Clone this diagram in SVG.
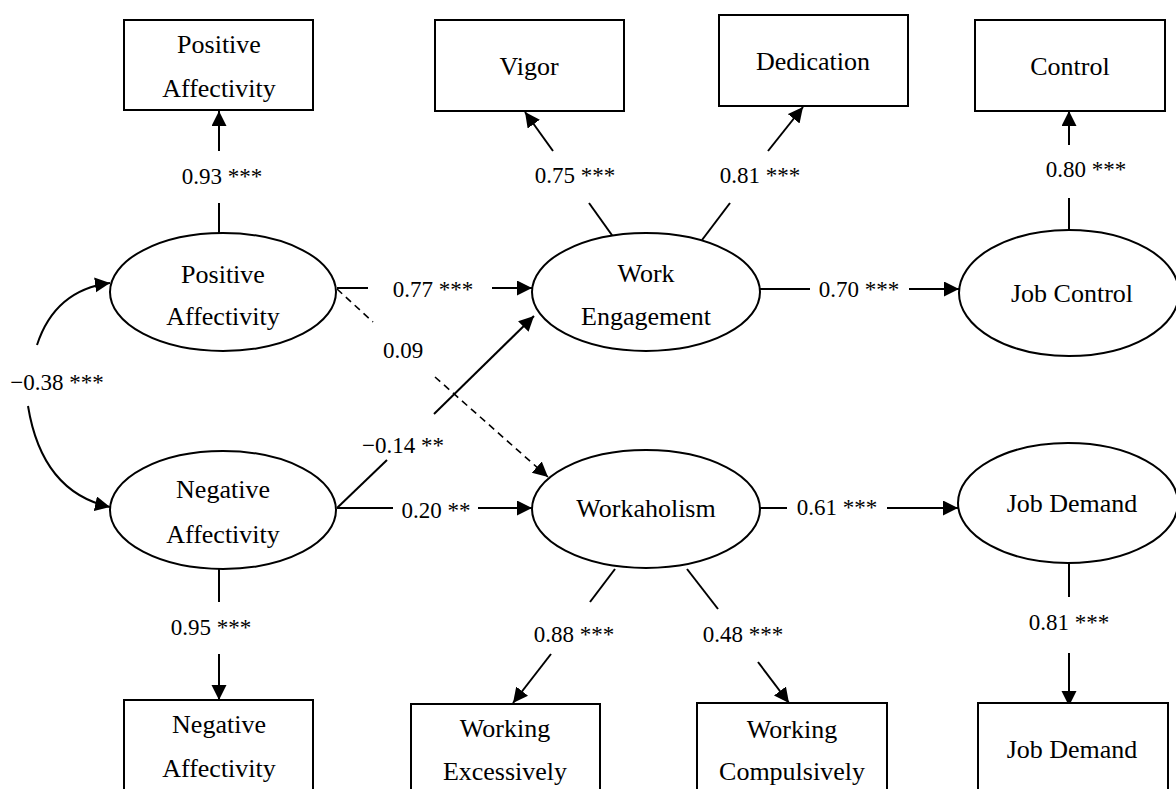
<svg xmlns="http://www.w3.org/2000/svg" width="1176" height="789" viewBox="0 0 1176 789">
<defs>
<style>
.box{fill:#fff;stroke:#000;stroke-width:2}
.ell{fill:#fff;stroke:#000;stroke-width:2}
.nt{font-family:"Liberation Serif",serif;font-size:26px;fill:#000;text-anchor:middle}
.lb{font-family:"Liberation Serif",serif;font-size:23px;fill:#000;text-anchor:middle}
.ln{fill:none;stroke:#000;stroke-width:2}
.ds{fill:none;stroke:#000;stroke-width:1.6;stroke-dasharray:7 5}
</style>
<marker id="ah" markerUnits="userSpaceOnUse" markerWidth="16" markerHeight="16" refX="15" refY="7.5" orient="auto" viewBox="0 0 16 16">
<path d="M0,0 L15,7.5 L0,15 z" fill="#000"/>
</marker>
</defs>
<rect width="1176" height="789" fill="#fff"/>

<g id="connectors">
<!-- PA latent to PA indicator -->
<line class="ln" x1="219" y1="151" x2="219" y2="111" marker-end="url(#ah)"/>
<line class="ln" x1="219" y1="203" x2="219" y2="233"/>
<!-- WE to Vigor -->
<line class="ln" x1="553" y1="151" x2="525" y2="112" marker-end="url(#ah)"/>
<line class="ln" x1="589" y1="203" x2="614" y2="238"/>
<!-- WE to Dedication -->
<line class="ln" x1="768" y1="151" x2="803" y2="107" marker-end="url(#ah)"/>
<line class="ln" x1="730" y1="203" x2="702" y2="240"/>
<!-- JC to Control -->
<line class="ln" x1="1069" y1="145" x2="1069" y2="111" marker-end="url(#ah)"/>
<line class="ln" x1="1069" y1="198" x2="1069" y2="230"/>
<!-- PA -> WE -->
<line class="ln" x1="337" y1="288" x2="368" y2="288"/>
<line class="ln" x1="492" y1="288" x2="532" y2="288" marker-end="url(#ah)"/>
<!-- NA -> W -->
<line class="ln" x1="337" y1="508" x2="393" y2="508"/>
<line class="ln" x1="478" y1="508" x2="532" y2="508" marker-end="url(#ah)"/>
<!-- WE -> JC -->
<line class="ln" x1="759" y1="289" x2="810" y2="289"/>
<line class="ln" x1="909" y1="289" x2="959" y2="289" marker-end="url(#ah)"/>
<!-- W -> JD -->
<line class="ln" x1="759" y1="508" x2="787" y2="508"/>
<line class="ln" x1="887" y1="508" x2="958" y2="508" marker-end="url(#ah)"/>
<!-- NA -> WE diagonal -->
<line class="ln" x1="337" y1="508" x2="387" y2="460"/>
<line class="ln" x1="434" y1="414" x2="534" y2="316" marker-end="url(#ah)"/>
<!-- PA -> W dashed -->
<line class="ds" x1="337" y1="289" x2="373" y2="322"/>
<line class="ds" x1="435" y1="377" x2="548" y2="477" marker-end="url(#ah)"/>
<!-- correlation PA <-> NA -->
<path class="ln" d="M37,345 Q55,290 110,283" marker-end="url(#ah)"/>
<path class="ln" d="M28,406 Q42,492 110,507" marker-end="url(#ah)"/>
<!-- NA latent to NA indicator -->
<line class="ln" x1="219" y1="568" x2="219" y2="602"/>
<line class="ln" x1="219" y1="654" x2="219" y2="700" marker-end="url(#ah)"/>
<!-- W to Working Excessively -->
<line class="ln" x1="615" y1="569" x2="590" y2="602"/>
<line class="ln" x1="551" y1="654" x2="513" y2="703" marker-end="url(#ah)"/>
<!-- W to Working Compulsively -->
<line class="ln" x1="687" y1="569" x2="718" y2="609"/>
<line class="ln" x1="758" y1="662" x2="789" y2="703" marker-end="url(#ah)"/>
<!-- JD latent to JD indicator -->
<line class="ln" x1="1069" y1="564" x2="1069" y2="597"/>
<line class="ln" x1="1069" y1="653" x2="1069" y2="706" marker-end="url(#ah)"/>

<g id="labels">
<text class="lb" x="222" y="184">0.93 ***</text>
<text class="lb" x="575" y="183">0.75 ***</text>
<text class="lb" x="760" y="183">0.81 ***</text>
<text class="lb" x="1086" y="177">0.80 ***</text>
<text class="lb" x="433" y="297">0.77 ***</text>
<text class="lb" x="859" y="297">0.70 ***</text>
<text class="lb" x="403" y="358">0.09</text>
<text class="lb" x="57" y="390">−0.38 ***</text>
<text class="lb" x="403" y="453">−0.14 **</text>
<text class="lb" x="436" y="518">0.20 **</text>
<text class="lb" x="837" y="515">0.61 ***</text>
<text class="lb" x="211" y="635">0.95 ***</text>
<text class="lb" x="574" y="642">0.88 ***</text>
<text class="lb" x="743" y="642">0.48 ***</text>
<text class="lb" x="1069" y="630">0.81 ***</text>
</g>
</g>

<g id="ind-positive-affectivity">
<rect class="box" x="124" y="20" width="189" height="90"/>
<text class="nt" x="219" y="53">Positive</text>
<text class="nt" x="219" y="97">Affectivity</text>
</g>
<g id="ind-vigor">
<rect class="box" x="435" y="20" width="189" height="91"/>
<text class="nt" x="529" y="75">Vigor</text>
</g>
<g id="ind-dedication">
<rect class="box" x="719" y="15" width="189" height="91"/>
<text class="nt" x="813" y="70">Dedication</text>
</g>
<g id="ind-control">
<rect class="box" x="975" y="20" width="190" height="91"/>
<text class="nt" x="1070" y="75">Control</text>
</g>

<g id="lat-positive-affectivity">
<ellipse class="ell" cx="223" cy="292" rx="113" ry="59"/>
<text class="nt" x="223" y="283">Positive</text>
<text class="nt" x="223" y="325">Affectivity</text>
</g>
<g id="lat-work-engagement">
<ellipse class="ell" cx="646" cy="292" rx="114" ry="59"/>
<text class="nt" x="646" y="282">Work</text>
<text class="nt" x="646" y="325">Engagement</text>
</g>
<g id="lat-job-control">
<ellipse class="ell" cx="1069" cy="293" rx="110" ry="63"/>
<text class="nt" x="1072" y="302">Job Control</text>
</g>
<g id="lat-negative-affectivity">
<ellipse class="ell" cx="223" cy="510" rx="113" ry="59"/>
<text class="nt" x="223" y="498">Negative</text>
<text class="nt" x="223" y="543">Affectivity</text>
</g>
<g id="lat-workaholism">
<ellipse class="ell" cx="646" cy="509" rx="114" ry="59"/>
<text class="nt" x="646" y="517">Workaholism</text>
</g>
<g id="lat-job-demand">
<ellipse class="ell" cx="1068" cy="503" rx="110" ry="60"/>
<text class="nt" x="1072" y="512">Job Demand</text>
</g>

<g id="ind-negative-affectivity">
<rect class="box" x="124" y="700" width="189" height="100"/>
<text class="nt" x="219" y="733">Negative</text>
<text class="nt" x="219" y="777">Affectivity</text>
</g>
<g id="ind-working-excessively">
<rect class="box" x="411" y="704" width="189" height="100"/>
<text class="nt" x="505" y="737">Working</text>
<text class="nt" x="505" y="780">Excessively</text>
</g>
<g id="ind-working-compulsively">
<rect class="box" x="697" y="703" width="190" height="100"/>
<text class="nt" x="792" y="738">Working</text>
<text class="nt" x="792" y="780">Compulsively</text>
</g>
<g id="ind-job-demand">
<rect class="box" x="978" y="703" width="190" height="100"/>
<text class="nt" x="1072" y="758">Job Demand</text>
</g>
</svg>
